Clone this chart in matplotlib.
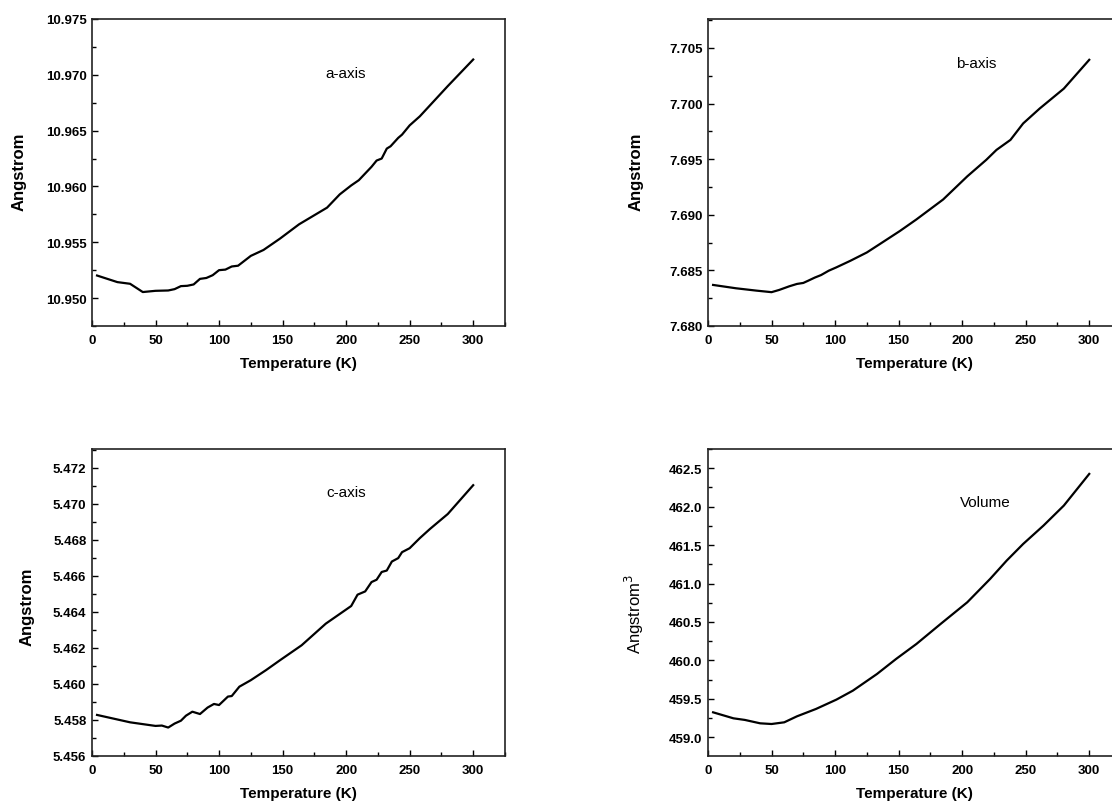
import matplotlib
matplotlib.use("Agg")
import matplotlib.pyplot as plt
from matplotlib.ticker import MultipleLocator, FormatStrFormatter

plt.rcParams['font.family'] = ['Liberation Sans', 'DejaVu Sans']

# Lattice parameters vs temperature
T_a = [4, 20, 30, 40, 50, 60, 65, 70, 75, 80, 85, 90, 95, 100, 105, 110, 115,
       125, 135, 148, 163, 185, 195, 204, 210, 215, 220, 224, 228, 232, 235,
       241, 244, 250, 258, 280, 300]
a_axis = [10.95202, 10.95143, 10.95128, 10.95054, 10.95065, 10.95068, 10.95080,
          10.95107, 10.95110, 10.95122, 10.95172, 10.95180, 10.95205, 10.95250,
          10.95255, 10.95283, 10.95290, 10.95378, 10.95431, 10.95533, 10.95661,
          10.95810, 10.95929, 10.96009, 10.96056, 10.96116, 10.96176, 10.96232,
          10.96250, 10.96339, 10.96360, 10.96435, 10.96464, 10.96547, 10.96628,
          10.96899, 10.97137]

T_b = [4, 22, 38, 50, 56, 64, 70, 75, 79, 84, 89, 95, 101, 112, 125, 135, 151,
       164, 185, 204, 219, 227, 238, 248, 261, 280, 300]
b_axis = [7.68369, 7.68339, 7.68318, 7.68304, 7.68324, 7.68357, 7.68378,
          7.68387, 7.68408, 7.68435, 7.68458, 7.68497, 7.68527, 7.68586,
          7.68661, 7.68735, 7.68854, 7.68958, 7.69137, 7.69345, 7.69494,
          7.69583, 7.69673, 7.69821, 7.69955, 7.70134, 7.70393]

T_c = [4, 30, 50, 55, 60, 65, 70, 74, 79, 85, 91, 96, 100, 107, 110, 116, 125,
       137, 148, 165, 184, 204, 209, 215, 220, 224, 228, 232, 236, 241, 244,
       250, 258, 266, 280, 300]
c_axis = [5.45828, 5.45787, 5.45767, 5.45769, 5.45758, 5.45780, 5.45796,
          5.45824, 5.45846, 5.45833, 5.45869, 5.45889, 5.45883, 5.45930,
          5.45933, 5.45985, 5.46021, 5.46077, 5.46132, 5.46215, 5.46335,
          5.46433, 5.46496, 5.46514, 5.46566, 5.46579, 5.46622, 5.46630,
          5.46680, 5.46699, 5.46732, 5.46754, 5.46810, 5.46861, 5.46944,
          5.47104]

T_v = [4, 20, 29, 41, 50, 60, 70, 85, 101, 114, 133, 148, 164, 183, 204, 222,
       235, 248, 264, 280, 300]
volume = [459.325, 459.247, 459.226, 459.182, 459.173, 459.195, 459.273,
          459.369, 459.490, 459.607, 459.824, 460.019, 460.214, 460.474,
          460.756, 461.060, 461.298, 461.515, 461.754, 462.014, 462.426]

fig = plt.figure(figsize=(11.12, 8.03), dpi=100)

W, H = 0.3714, 0.3823
panels = [
    dict(pos=[0.0827, 0.5928, W, H], x=T_a, y=a_axis, ylim=(10.9475, 10.975),
         major=0.005, minor=0.0025, fmt='%.3f', label='a-axis',
         lpos=(200, 10.9702), ylabel='Angstrom', ybold=True,
         ylc=(-0.158, 0.505)),
    dict(pos=[0.6367, 0.5928, W, H], x=T_b, y=b_axis, ylim=(7.680, 7.7076),
         major=0.005, minor=0.0025, fmt='%.3f', label='b-axis',
         lpos=(211, 7.70366), ylabel='Angstrom', ybold=True,
         ylc=(-0.155, 0.505)),
    dict(pos=[0.0827, 0.0573, W, H], x=T_c, y=c_axis, ylim=(5.456, 5.47305),
         major=0.002, minor=0.001, fmt='%.3f', label='c-axis',
         lpos=(200, 5.47064), ylabel='Angstrom', ybold=True,
         ylc=(-0.14, 0.49)),
    dict(pos=[0.6367, 0.0573, W, H], x=T_v, y=volume, ylim=(458.757, 462.75),
         major=0.5, minor=0.25, fmt='%.1f', label='Volume',
         lpos=(218, 462.057), ylabel='Angstrom$^3$', ybold=False,
         ylc=(-0.15, 0.465)),
]

for p in panels:
    ax = fig.add_axes(p['pos'])
    ax.plot(p['x'], p['y'], color='black', lw=1.6, solid_joinstyle='round')
    ax.set_xlim(0, 325)
    ax.set_ylim(*p['ylim'])
    ax.xaxis.set_major_locator(MultipleLocator(50))
    ax.xaxis.set_minor_locator(MultipleLocator(25))
    ax.yaxis.set_major_locator(MultipleLocator(p['major']))
    ax.yaxis.set_minor_locator(MultipleLocator(p['minor']))
    ax.yaxis.set_major_formatter(FormatStrFormatter(p['fmt']))
    ax.tick_params(which='both', direction='in', top=False, right=False,
                   width=1.0, colors='black')
    ax.tick_params(which='major', length=4.5)
    ax.tick_params(which='minor', length=3)
    ax.tick_params(axis='x', which='major', pad=6)
    ax.tick_params(axis='y', which='major', pad=4)
    for lab in ax.get_xticklabels() + ax.get_yticklabels():
        lab.set_fontsize(9.5)
        lab.set_fontweight('bold')
    for sp in ax.spines.values():
        sp.set_linewidth(1.2)
        sp.set_color('#222222')
    ax.set_xlabel('Temperature (K)', fontsize=11, fontweight='bold', labelpad=7)
    ax.set_ylabel(p['ylabel'], fontsize=12,
                  fontweight='bold' if p['ybold'] else 'normal')
    ax.yaxis.set_label_coords(*p['ylc'])
    ax.text(p['lpos'][0], p['lpos'][1], p['label'], fontsize=11,
            ha='center', va='center')

fig.savefig('out.png', dpi=100)
